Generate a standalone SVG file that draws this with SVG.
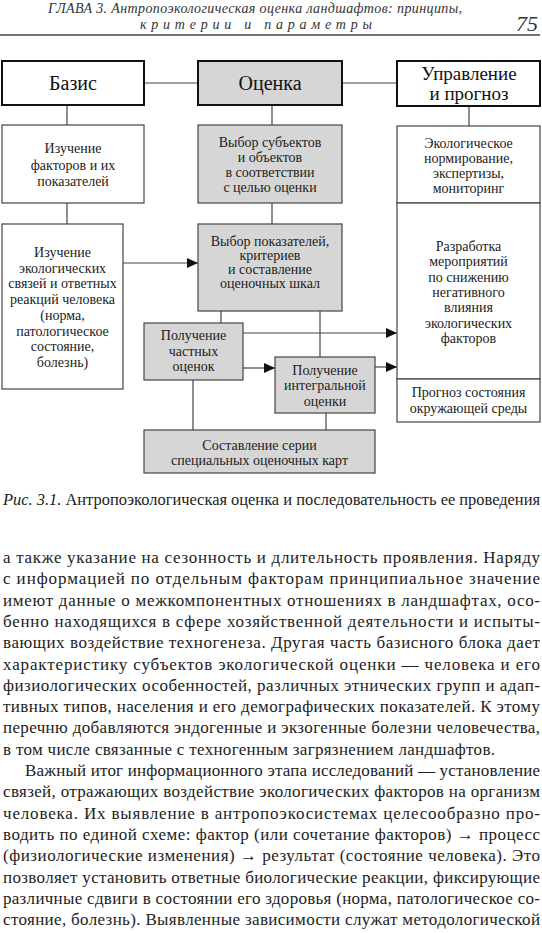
<svg xmlns="http://www.w3.org/2000/svg" width="542" height="933" viewBox="0 0 542 933">
<style>
  .bg{fill:#ffffff}
  .hdr{font-family:"Liberation Serif","Times New Roman","DejaVu Serif",serif;font-style:italic;fill:#333}
  .title{fill:#fff;stroke:#111;stroke-width:2}
  .titleg{fill:#d6d6d6;stroke:#111;stroke-width:2}
  .box{fill:#fff;stroke:#444;stroke-width:1.2}
  .boxg{fill:#d6d6d6;stroke:#444;stroke-width:1.2}
  .t20{font-family:"Liberation Serif","Times New Roman","DejaVu Serif",serif;font-size:20px;fill:#111;text-anchor:middle}
  .t19{font-family:"Liberation Serif","Times New Roman","DejaVu Serif",serif;font-size:19px;fill:#111;text-anchor:middle}
  .t14{font-family:"Liberation Serif","Times New Roman","DejaVu Serif",serif;font-size:14px;fill:#222;text-anchor:middle}
  .con{stroke:#444;stroke-width:1.2;fill:none}
  .body{font-family:"Liberation Serif","Times New Roman","DejaVu Serif",serif;font-size:17px;fill:#222}
  .cap{font-family:"Liberation Serif","Times New Roman","DejaVu Serif",serif;font-size:16px;fill:#222}
</style>
<defs>
  <marker id="arr" markerUnits="userSpaceOnUse" markerWidth="12" markerHeight="10" refX="11" refY="5" orient="auto">
    <path d="M0,0 L11,5 L0,10 Z" fill="#111"/>
  </marker>
</defs>
<rect class="bg" x="0" y="0" width="542" height="933"/>

<g id="header">
  <text class="hdr" x="255" y="13" font-size="14" text-anchor="middle" textLength="414" lengthAdjust="spacing">ГЛАВА 3. Антропоэкологическая оценка ландшафтов: принципы,</text>
  <text class="hdr" x="256" y="29" font-size="14" text-anchor="middle" textLength="232" lengthAdjust="spacing">критерии и параметры</text>
  <text class="hdr" x="538" y="31" font-size="22" text-anchor="end">75</text>
  <line x1="0" y1="35" x2="540" y2="35" stroke="#444" stroke-width="1.5"/>
</g>

<g id="connectors">
  <line class="con" x1="144" y1="83" x2="198" y2="83"/>
  <line class="con" x1="342" y1="83" x2="397" y2="83"/>
  <line class="con" x1="67" y1="105" x2="67" y2="125"/>
  <line class="con" x1="67" y1="203" x2="67" y2="224"/>
  <line class="con" x1="272" y1="105" x2="272" y2="125"/>
  <line class="con" x1="272" y1="203" x2="272" y2="224"/>
  <line class="con" x1="469" y1="106" x2="469" y2="126"/>
  <line class="con" x1="123" y1="263" x2="198" y2="263" marker-end="url(#arr)"/>
  <line class="con" x1="221" y1="311" x2="221" y2="323"/>
  <line class="con" x1="320" y1="311" x2="320" y2="357"/>
  <line class="con" x1="243" y1="333" x2="397" y2="333" marker-end="url(#arr)"/>
  <line class="con" x1="243" y1="368" x2="275" y2="368" marker-end="url(#arr)"/>
  <line class="con" x1="375" y1="367" x2="397" y2="367" marker-end="url(#arr)"/>
  <line class="con" x1="193" y1="380" x2="193" y2="430"/>
  <line class="con" x1="326" y1="413" x2="326" y2="430"/>
</g>

<g id="bazis">
  <rect class="title" x="2" y="61" width="142" height="44"/>
  <text class="t20" x="73" y="90">Базис</text>
</g>
<g id="ocenka">
  <rect class="titleg" x="198" y="61" width="144" height="44"/>
  <text class="t20" x="270" y="90">Оценка</text>
</g>
<g id="upravlenie">
  <rect class="title" x="397" y="61" width="143" height="45"/>
  <text class="t19" x="469" y="80">Управление</text>
  <text class="t19" x="469" y="100">и прогноз</text>
</g>

<g id="izuch-faktorov">
  <rect class="box" x="2" y="125" width="142" height="78"/>
  <text class="t14" x="73" y="153">Изучение</text>
  <text class="t14" x="73" y="169.5">факторов и их</text>
  <text class="t14" x="73" y="186">показателей</text>
</g>
<g id="vybor-subjektov">
  <rect class="boxg" x="198" y="125" width="144" height="78"/>
  <text class="t14" x="270" y="147">Выбор субъектов</text>
  <text class="t14" x="270" y="162">и объектов</text>
  <text class="t14" x="270" y="177">в соответствии</text>
  <text class="t14" x="270" y="192">с целью оценки</text>
</g>
<g id="ekol-normirovanie">
  <rect class="box" x="397" y="126" width="143" height="77"/>
  <text class="t14" x="468.5" y="148">Экологическое</text>
  <text class="t14" x="468.5" y="163">нормирование,</text>
  <text class="t14" x="468.5" y="178">экспертизы,</text>
  <text class="t14" x="468.5" y="193">мониторинг</text>
</g>
<g id="izuch-svyazey">
  <rect class="box" x="2" y="224" width="121" height="165"/>
  <text class="t14" x="62.5" y="257">Изучение</text>
  <text class="t14" x="62.5" y="272.7">экологических</text>
  <text class="t14" x="62.5" y="288.4">связей и ответных</text>
  <text class="t14" x="62.5" y="304.1">реакций человека</text>
  <text class="t14" x="62.5" y="319.8">(норма,</text>
  <text class="t14" x="62.5" y="335.5">патологическое</text>
  <text class="t14" x="62.5" y="351.2">состояние,</text>
  <text class="t14" x="62.5" y="366.9">болезнь)</text>
</g>
<g id="vybor-pokazateley">
  <rect class="boxg" x="198" y="224" width="144" height="87"/>
  <text class="t14" x="270" y="246">Выбор показателей,</text>
  <text class="t14" x="270" y="260">критериев</text>
  <text class="t14" x="270" y="274">и составление</text>
  <text class="t14" x="270" y="288">оценочных шкал</text>
</g>
<g id="razrabotka">
  <rect class="box" x="397" y="203" width="143" height="176"/>
  <text class="t14" x="468.5" y="251">Разработка</text>
  <text class="t14" x="468.5" y="266.3">мероприятий</text>
  <text class="t14" x="468.5" y="281.6">по снижению</text>
  <text class="t14" x="468.5" y="296.9">негативного</text>
  <text class="t14" x="468.5" y="312.2">влияния</text>
  <text class="t14" x="468.5" y="327.5">экологических</text>
  <text class="t14" x="468.5" y="342.8">факторов</text>
</g>
<g id="chastnye">
  <rect class="boxg" x="144" y="323" width="99" height="57"/>
  <text class="t14" x="193.5" y="340">Получение</text>
  <text class="t14" x="193.5" y="355.5">частных</text>
  <text class="t14" x="193.5" y="371">оценок</text>
</g>
<g id="integralnaya">
  <rect class="boxg" x="275" y="357" width="100" height="56"/>
  <text class="t14" x="325" y="375">Получение</text>
  <text class="t14" x="325" y="390">интегральной</text>
  <text class="t14" x="325" y="406">оценки</text>
</g>
<g id="prognoz">
  <rect class="box" x="397" y="379" width="143" height="43"/>
  <text class="t14" x="468.5" y="397">Прогноз состояния</text>
  <text class="t14" x="468.5" y="413">окружающей среды</text>
</g>
<g id="sostavlenie">
  <rect class="boxg" x="144" y="430" width="231" height="43"/>
  <text class="t14" x="259.5" y="450">Составление серии</text>
  <text class="t14" x="259.5" y="465">специальных оценочных карт</text>
</g>

<g id="caption">
  <text class="cap" x="3" y="505" textLength="537" lengthAdjust="spacingAndGlyphs"><tspan font-style="italic">Рис. 3.1.</tspan> Антропоэкологическая оценка и последовательность ее проведения</text>
</g>

<g id="body">
  <text class="body" x="3" y="563" textLength="537" lengthAdjust="spacing">а также указание на сезонность и длительность проявления. Наряду</text>
  <text class="body" x="3" y="584.3" textLength="537" lengthAdjust="spacing">с информацией по отдельным факторам принципиальное значение</text>
  <text class="body" x="3" y="605.6" textLength="537" lengthAdjust="spacing">имеют данные о межкомпонентных отношениях в ландшафтах, осо-</text>
  <text class="body" x="3" y="626.9" textLength="537" lengthAdjust="spacing">бенно находящихся в сфере хозяйственной деятельности и испыты-</text>
  <text class="body" x="3" y="648.2" textLength="537" lengthAdjust="spacing">вающих воздействие техногенеза. Другая часть базисного блока дает</text>
  <text class="body" x="3" y="669.5" textLength="537" lengthAdjust="spacing">характеристику субъектов экологической оценки — человека и его</text>
  <text class="body" x="3" y="690.8" textLength="537" lengthAdjust="spacing">физиологических особенностей, различных этнических групп и адап-</text>
  <text class="body" x="3" y="712.1" textLength="537" lengthAdjust="spacing">тивных типов, населения и его демографических показателей. К этому</text>
  <text class="body" x="3" y="733.4" textLength="537" lengthAdjust="spacing">перечню добавляются эндогенные и экзогенные болезни человечества,</text>
  <text class="body" x="3" y="754.7" textLength="492" lengthAdjust="spacing">в том числе связанные с техногенным загрязнением ландшафтов.</text>
  <text class="body" x="25" y="776" textLength="515" lengthAdjust="spacing">Важный итог информационного этапа исследований — установление</text>
  <text class="body" x="3" y="797.3" textLength="537" lengthAdjust="spacing">связей, отражающих воздействие экологических факторов на организм</text>
  <text class="body" x="3" y="818.6" textLength="537" lengthAdjust="spacing">человека. Их выявление в антропоэкосистемах целесообразно про-</text>
  <text class="body" x="3" y="839.9" textLength="537" lengthAdjust="spacing">водить по единой схеме: фактор (или сочетание факторов) → процесс</text>
  <text class="body" x="3" y="861.2" textLength="537" lengthAdjust="spacing">(физиологические изменения) → результат (состояние человека). Это</text>
  <text class="body" x="3" y="882.5" textLength="537" lengthAdjust="spacing">позволяет установить ответные биологические реакции, фиксирующие</text>
  <text class="body" x="3" y="903.8" textLength="537" lengthAdjust="spacing">различные сдвиги в состоянии его здоровья (норма, патологическое со-</text>
  <text class="body" x="3" y="925.1" textLength="537" lengthAdjust="spacing">стояние, болезнь). Выявленные зависимости служат методологической</text>
</g>
</svg>
